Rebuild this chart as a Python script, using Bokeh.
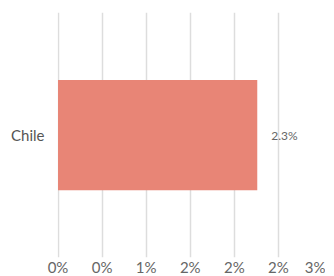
from bokeh.plotting import figure
from bokeh.models import FixedTicker, ColumnDataSource
from bokeh.core.properties import value
from bokeh.embed import file_html
from bokeh.resources import INLINE

countries = ["Chile"]
values = [2.26]
labels = ["2.3%"]
tick_values = [0, 0.5, 1, 1.5, 2, 2.5, 3]
tick_labels = ["0%", "0%", "1%", "2%", "2%", "2%", "3%"]

src = ColumnDataSource(dict(y=countries, v=values, lab=labels))

p = figure(y_range=countries, x_range=(-0.006, 3.0), output_backend="svg", toolbar_location=None,
           frame_width=265, frame_height=245, min_border_left=57, min_border_right=3,
           min_border_top=12, min_border_bottom=0)
p.outline_line_color = None
p.background_fill_color = "white"

p.hbar(y="y", right="v", left=0, height=0.45, source=src, color="#E88576", line_color=None)
p.text(x="v", y="y", text="lab", source=src, x_offset=14, text_align="left", text_baseline="middle",
       text_font=value("Lato"), text_font_size="12px", text_color="#666666")

p.xaxis.ticker = FixedTicker(ticks=tick_values)
p.xaxis.major_label_overrides = {t: l for t, l in zip(tick_values, tick_labels)}
p.xaxis.axis_line_color = None
p.xaxis.major_tick_line_color = None
p.xaxis.minor_tick_line_color = None
p.xaxis.major_tick_out = 0
p.xaxis.major_tick_in = 0
p.xaxis.major_label_standoff = 0
p.xaxis.major_label_text_font = "Lato"
p.xaxis.major_label_text_font_size = "15px"
p.xaxis.major_label_text_color = "#666666"

p.yaxis.axis_line_color = None
p.yaxis.major_tick_line_color = None
p.yaxis.minor_tick_line_color = None
p.yaxis.major_tick_out = 0
p.yaxis.major_tick_in = 0
p.yaxis.major_label_standoff = 13
p.yaxis.major_label_text_font = "Lato"
p.yaxis.major_label_text_font_size = "15px"
p.yaxis.major_label_text_color = "#555555"

p.xgrid.grid_line_color = "#dddddd"
p.xgrid.grid_line_width = 1.5
p.ygrid.grid_line_color = None

open("out.html", "w").write(file_html(p, INLINE))
